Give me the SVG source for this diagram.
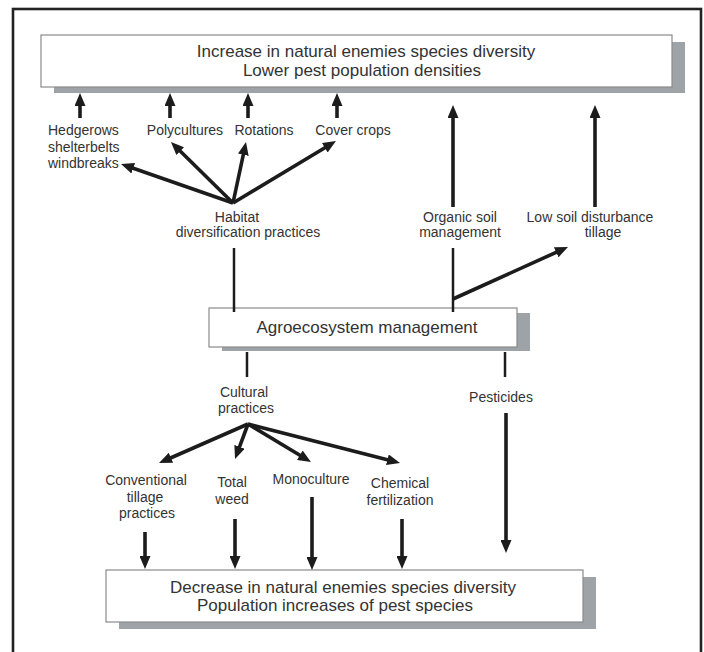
<svg xmlns="http://www.w3.org/2000/svg" width="704" height="652" viewBox="0 0 704 652">
<style>
.box{fill:#fff;stroke:#8a8a8a;stroke-width:1.2}
.shadow{fill:#9ea3a8}
.big{font-family:"Liberation Sans",Arial,sans-serif;font-size:17px;fill:#333;text-anchor:middle}
.lbl{font-family:"Liberation Sans",Arial,sans-serif;font-size:14px;fill:#333;text-anchor:middle}
.lblL{font-family:"Liberation Sans",Arial,sans-serif;font-size:14px;fill:#333}
.thin{stroke:#1c1c1c;stroke-width:2.5;fill:none}
.arr{stroke:#1c1c1c;stroke-width:3.6;fill:none;marker-end:url(#ah)}
</style>
<defs>
<marker id="ah" viewBox="0 0 13 11" markerWidth="13" markerHeight="11" refX="3" refY="5.5" orient="auto" markerUnits="userSpaceOnUse">
<path d="M0,0 L13,5.5 L0,11 z" fill="#1c1c1c"/>
</marker>
</defs>
<rect x="13" y="9" width="688" height="660" fill="none" stroke="#222" stroke-width="2.6"/>

<g id="top">
<rect class="shadow" x="54" y="42" width="631" height="51"/>
<rect class="box" x="41" y="35" width="631" height="52"/>
<text class="big" x="366" y="57">Increase in natural enemies species diversity</text>
<text class="big" x="362" y="76">Lower pest population densities</text>
</g>

<g id="agro">
<rect class="shadow" x="222" y="313" width="308" height="38"/>
<rect class="box" x="209" y="308" width="308" height="39"/>
<text class="big" x="367" y="333">Agroecosystem management</text>
</g>

<g id="bottom">
<rect class="shadow" x="119" y="577" width="477" height="52"/>
<rect class="box" x="106" y="570" width="477" height="52"/>
<text class="big" x="343" y="593">Decrease in natural enemies species diversity</text>
<text class="big" x="335" y="611">Population increases of pest species</text>
</g>

<g id="hedgerows">
<text class="lblL" x="48" y="135">Hedgerows</text>
<text class="lblL" x="48" y="152">shelterbelts</text>
<text class="lblL" x="48" y="168">windbreaks</text>
</g>
<g id="polycultures"><text class="lbl" x="185" y="135">Polycultures</text></g>
<g id="rotations"><text class="lbl" x="264" y="135">Rotations</text></g>
<g id="covercrops"><text class="lbl" x="353" y="135">Cover crops</text></g>
<g id="habitat">
<text class="lbl" x="237" y="222">Habitat</text>
<text class="lbl" x="248" y="237">diversification practices</text>
</g>
<g id="organic">
<text class="lbl" x="460" y="222">Organic soil</text>
<text class="lbl" x="460" y="237">management</text>
</g>
<g id="lowsoil">
<text class="lbl" x="590" y="222">Low soil disturbance</text>
<text class="lbl" x="603" y="237">tillage</text>
</g>
<g id="cultural">
<text class="lbl" x="244" y="397">Cultural</text>
<text class="lbl" x="246" y="413">practices</text>
</g>
<g id="pesticides"><text class="lbl" x="501" y="402">Pesticides</text></g>
<g id="conventional">
<text class="lbl" x="146" y="485">Conventional</text>
<text class="lbl" x="145" y="502">tillage</text>
<text class="lbl" x="147" y="518">practices</text>
</g>
<g id="totalweed">
<text class="lbl" x="232" y="487">Total</text>
<text class="lbl" x="232" y="504">weed</text>
</g>
<g id="monoculture"><text class="lbl" x="311" y="484">Monoculture</text></g>
<g id="chemical">
<text class="lbl" x="400" y="488">Chemical</text>
<text class="lbl" x="400" y="505">fertilization</text>
</g>

<g id="connectors">
<path class="arr" d="M80,118 V103"/>
<path class="arr" d="M170,118 V103"/>
<path class="arr" d="M248,118 V103"/>
<path class="arr" d="M337,118 V103"/>
<path class="arr" d="M453,207 V115"/>
<path class="arr" d="M595,207 V115"/>
<path class="arr" d="M233,203 L130.4,167.3"/>
<path class="arr" d="M233,203 L178.1,149"/>
<path class="arr" d="M233,203 L243.9,151.8"/>
<path class="arr" d="M233,203 L327.4,146.2"/>
<path class="thin" d="M234,248 V312"/>
<path class="thin" d="M453,248 V312"/>
<path class="arr" d="M453,299 L558.9,251.1"/>
<path class="thin" d="M247,352 V377"/>
<path class="thin" d="M505,352 V377"/>
<path class="arr" d="M248,424 L168.2,459"/>
<path class="arr" d="M248,424 L238.5,449.6"/>
<path class="arr" d="M248,424 L302.4,456.8"/>
<path class="arr" d="M248,424 L390.3,460.5"/>
<path class="arr" d="M145,532 V559"/>
<path class="arr" d="M235,519 V559"/>
<path class="arr" d="M312,497 V560"/>
<path class="arr" d="M402,519 V559"/>
<path class="arr" d="M506,413 V543"/>
</g>
</svg>
